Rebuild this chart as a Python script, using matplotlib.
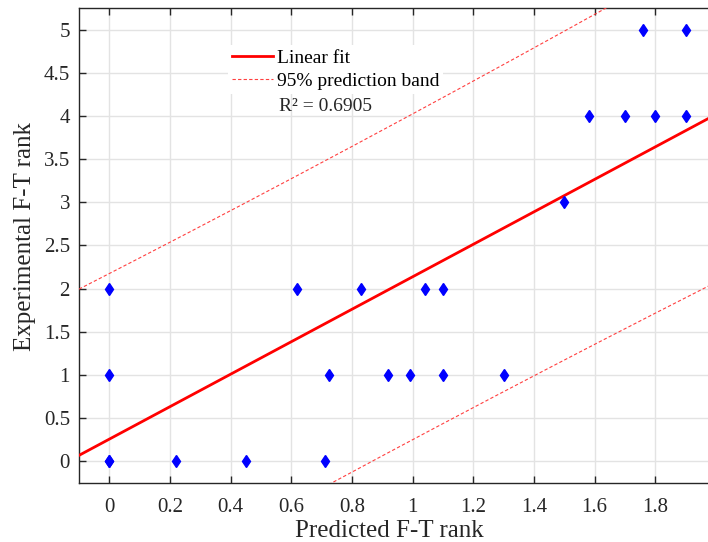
import matplotlib.pyplot as plt
import numpy as np

plt.rcParams['font.family'] = ['Liberation Serif', 'DejaVu Serif']

# data
predicted = [0, 0, 0, 0, 0.22, 0.45, 0.71, 0.62, 0.725, 0.83, 0.92, 0.99,
             1.04, 1.10, 1.10, 1.30, 1.50, 1.58, 1.70, 1.80, 1.76, 1.90, 1.90]
experimental = [0, 0, 1, 2, 0, 0, 0, 2, 1, 2, 1, 1,
                2, 2, 1, 1, 3, 4, 4, 4, 5, 5, 4]

# fit and band
fit_slope = 1.88
fit_intercept = 0.258
band_half_min = 1.885   # half width at the narrowest point
band_center_x = 0.85
band_curv = 0.17

r2_label = 'R² = 0.6905'
x_ticks = [0, 0.2, 0.4, 0.6, 0.8, 1, 1.2, 1.4, 1.6, 1.8]
x_tick_labels = ['0', '0.2', '0.4', '0.6', '0.8', '1', '1.2', '1.4', '1.6', '1.8']
y_ticks = [0, 0.5, 1, 1.5, 2, 2.5, 3, 3.5, 4, 4.5, 5]
y_tick_labels = ['0', '0.5', '1', '1.5', '2', '2.5', '3', '3.5', '4', '4.5', '5']

xf = np.linspace(-0.1, 2.0, 200)
yf = fit_slope * xf + fit_intercept
half = np.sqrt(band_half_min ** 2 + band_curv * (xf - band_center_x) ** 2)

fig = plt.figure(figsize=(7.08, 5.42), dpi=100)
ax = fig.add_axes([79 / 708, 59 / 542, 637 / 708, 475 / 542])

ax.plot(xf, yf, color='red', lw=2, label='Linear fit', zorder=3)
ax.plot(xf, yf + half, color='#ff4040', lw=0.8, ls=(0, (3, 2)),
        label='95% prediction band', zorder=3)
ax.plot(xf, yf - half, color='#ff4040', lw=0.8, ls=(0, (3, 2)), zorder=3)
ax.plot(predicted, experimental, 'd', color='blue', markersize=6, zorder=4)

ax.set_xlim(-0.1, 2.0)
ax.set_ylim(-0.25, 5.25)
ax.set_xticks(x_ticks)
ax.set_xticklabels(x_tick_labels)
ax.set_yticks(y_ticks)
ax.set_yticklabels(y_tick_labels)
ax.tick_params(direction='in', top=True, right=True, labelsize=15,
               length=5, width=1, color='#262626', labelcolor='#262626', pad=6.5)
ax.tick_params(axis='x', pad=11)
ax.grid(True, color='#e3e3e3', lw=1)
ax.set_axisbelow(True)
for sp in ax.spines.values():
    sp.set_color('#262626')
    sp.set_linewidth(1)

ax.set_xlabel('Predicted F-T rank', fontsize=18, color='#262626', va='center')
ax.xaxis.set_label_coords((389 - 79) / 637, (483 - 531) / 475)
ax.set_ylabel('Experimental F-T rank', fontsize=18, color='#262626', va='center')
ax.yaxis.set_label_coords((25 - 79) / 637, (483 - 237) / 475)

leg = ax.legend(loc='upper left', bbox_to_anchor=(0.234, 0.922), borderaxespad=0,
                fontsize=14, frameon=True, fancybox=False, handlelength=2.1,
                handletextpad=0.2, labelspacing=0.3, borderpad=0.2)
leg.get_frame().set_edgecolor('none')
leg.get_frame().set_facecolor('white')
leg.get_frame().set_alpha(1)

ax.text(0.314, 0.792, r2_label, transform=ax.transAxes, fontsize=14,
        color='#262626', va='center', ha='left', zorder=5)

fig.savefig('out.png', dpi=100)
